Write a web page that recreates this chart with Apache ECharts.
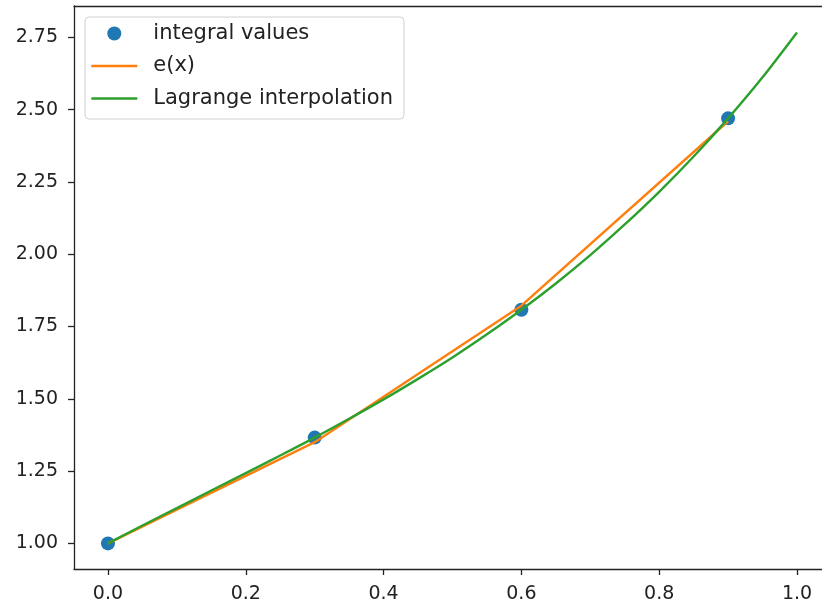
<!DOCTYPE html>
<html>
<head>
<meta charset="utf-8">
<script src="https://cdn.jsdelivr.net/npm/echarts@6/dist/echarts.min.js"></script>
<style>
  html, body { margin: 0; padding: 0; background: #fff; }
  #chart { width: 822px; height: 608px; }
</style>
</head>
<body>
<div id="chart"></div>
<script>
// 积分值（蓝点）
const pointX = [0.0, 0.3, 0.6, 0.9];
const pointY = [1.000, 1.366, 1.808, 2.470];

// e(x) 折线
const expX = [0.0, 0.3, 0.6, 0.9];
const expY = [1.000, 1.350, 1.822, 2.460];

// Lagrange 插值曲线
const lagX = [0.0, 0.05, 0.1, 0.15, 0.2, 0.25, 0.3, 0.35, 0.4, 0.45, 0.5,
              0.55, 0.6, 0.65, 0.7, 0.75, 0.8, 0.85, 0.9, 0.95, 1.0];
const lagY = [1.000, 1.062, 1.122, 1.183, 1.243, 1.304, 1.366, 1.431, 1.498, 1.569, 1.643,
              1.723, 1.808, 1.899, 1.997, 2.103, 2.216, 2.338, 2.470, 2.612, 2.767];

// 刻度
const xTicks = [0.0, 0.2, 0.4, 0.6, 0.8, 1.0];
const yTicks = [1.00, 1.25, 1.50, 1.75, 2.00, 2.25, 2.50, 2.75];

const names = ['integral values', 'e(x)', 'Lagrange interpolation'];

function zip(xs, ys) {
    return xs.map((x, i) => [x, ys[i]]);
}

let myChart = echarts.init(document.getElementById('chart'));
const font = 'DejaVu Sans';
const spine = { color: '#222', width: 1.3 };

let option = {
    animation: false,
    color: ['#1f77b4', '#ff7f0e', '#2ca02c'],
    grid: {
        left: 74,
        top: 6,
        right: 0,
        height: 563
    },
    legend: {
        orient: 'vertical',
        left: 85,
        top: 17,
        padding: [6, 11, 10, 5],
        itemWidth: 46,
        itemHeight: 14,
        itemGap: 11.5,
        backgroundColor: '#fff',
        borderColor: '#d0d0d0',
        borderWidth: 1,
        borderRadius: 4,
        textStyle: {
            fontFamily: font,
            fontSize: 21,
            color: '#222',
            padding: [0, 0, 0, 11]
        },
        data: [
            { name: names[0], icon: 'circle' },
            { name: names[1], itemStyle: { opacity: 0 }, lineStyle: { width: 2.6 } },
            { name: names[2], itemStyle: { opacity: 0 }, lineStyle: { width: 2.6 } }
        ]
    },
    xAxis: [
        {
            type: 'value',
            min: -0.0493,
            max: 1.0363,
            splitLine: { show: false },
            axisLine: { show: true, onZero: false, lineStyle: spine },
            axisTick: {
                show: true,
                length: 6,
                lineStyle: spine,
                customValues: xTicks
            },
            axisLabel: {
                fontFamily: font,
                fontSize: 19,
                color: '#222',
                margin: 16,
                customValues: xTicks,
                formatter: v => v.toFixed(1)
            }
        },
        {
            // 上边框
            type: 'value',
            position: 'top',
            min: -0.0493,
            max: 1.0363,
            splitLine: { show: false },
            axisLine: { show: true, onZero: false, lineStyle: spine },
            axisTick: { show: false },
            axisLabel: { show: false }
        }
    ],
    yAxis: {
        type: 'value',
        min: 0.9115,
        max: 2.8585,
        splitLine: { show: false },
        axisLine: { show: true, onZero: false, lineStyle: spine },
        axisTick: {
            show: true,
            length: 6,
            lineStyle: spine,
            customValues: yTicks
        },
        axisLabel: {
            fontFamily: font,
            fontSize: 19,
            color: '#222',
            margin: 16,
            customValues: yTicks,
            formatter: v => v.toFixed(2)
        }
    },
    series: [
        {
            name: names[0],
            type: 'scatter',
            symbol: 'circle',
            symbolSize: 14,
            itemStyle: { opacity: 1 },
            z: 1,
            data: zip(pointX, pointY)
        },
        {
            name: names[1],
            type: 'line',
            symbol: 'none',
            lineStyle: { width: 2.4 },
            z: 2,
            data: zip(expX, expY)
        },
        {
            name: names[2],
            type: 'line',
            symbol: 'none',
            smooth: 0.3,
            lineStyle: { width: 2.4 },
            z: 3,
            data: zip(lagX, lagY)
        }
    ]
};
myChart.setOption(option);
</script>
</body>
</html>
